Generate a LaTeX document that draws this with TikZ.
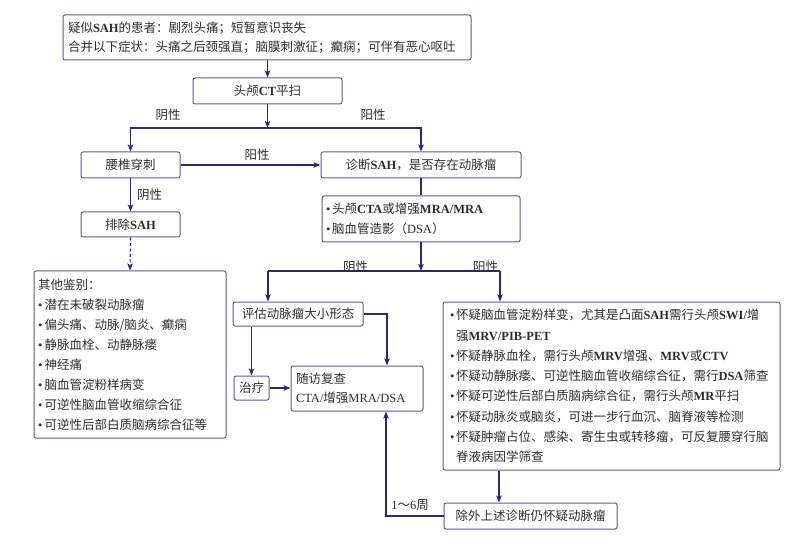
\documentclass[tikz,border=0pt]{standalone}
\usepackage{fontspec}
\setmainfont{Noto Sans CJK SC}
\newfontfamily\latf{Liberation Serif}
\usetikzlibrary{arrows.meta}
\definecolor{boxc}{RGB}{95,88,150}
\definecolor{linec}{RGB}{45,40,115}
\definecolor{txt}{RGB}{45,45,45}
\newcommand\ltb[1]{{\latf\bfseries #1}}
\newcommand\ltr[1]{{\latf #1}}
\newcommand\mybul[1]{\makebox[#1][l]{\latf •}}
\begin{document}
\begin{tikzpicture}[x=1pt,y=-1pt,
  box/.style={draw=boxc, line width=1pt, rounded corners=2pt, inner sep=0pt, text=txt,
    font=\fontsize{12.5}{19}\selectfont},
  lab/.style={text=txt, inner sep=0pt, font=\fontsize{12.5}{15}\selectfont},
  conn/.style={draw=linec, line width=1.1pt},
  arr/.style={conn, -{Stealth[length=7pt,width=5.5pt,inset=1.5pt]}}]
\useasboundingbox (0,0) rectangle (800,545);

% boxes
\node[box, minimum width=408, minimum height=45, inner xsep=5pt, text width=398pt, align=left]
  (top) at (267,37.5) {疑似\ltb{SAH}的患者：剧烈头痛；短暂意识丧失\\
  合并以下症状：头痛之后颈强直；脑膜刺激征；癫痫；可伴有恶心呕吐};
\node[box, minimum width=149, minimum height=26] (ct) at (267.5,91) {头颅\ltb{CT}平扫};
\node[box, minimum width=99, minimum height=26] (lp) at (130.5,165) {腰椎穿刺};
\node[box, minimum width=200, minimum height=26] (dx) at (421,165) {诊断\ltb{SAH}，是否存在动脉瘤};
\node[box, minimum width=99, minimum height=25] (ex) at (130.5,224.5) {排除\ltb{SAH}};
\node[box, minimum width=192, minimum height=167, inner xsep=4pt, text width=184pt, align=left,
  font=\fontsize{12.5}{20}\selectfont] (ot) at (130,354.5) {其他鉴别：\\
  \mybul{6.5pt}潜在未破裂动脉瘤\\
  \mybul{6.5pt}偏头痛、动脉/脑炎、癫痫\\
  \mybul{6.5pt}静脉血栓、动静脉瘘\\
  \mybul{6.5pt}神经痛\\
  \mybul{6.5pt}脑血管淀粉样病变\\
  \mybul{6.5pt}可逆性脑血管收缩综合征\\
  \mybul{6.5pt}可逆性后部白质脑病综合征等};
\node[box, minimum width=198, minimum height=46, inner xsep=4pt, text width=190pt, align=left,
  font=\fontsize{12.5}{20}\selectfont] (cta) at (421,219) {\mybul{6pt}头颅\ltb{CTA}或增强\ltb{MRA/MRA}\\
  \mybul{6pt}脑血管造影（\ltr{DSA}）};
\node[box, minimum width=130, minimum height=24] (pg) at (298,314) {评估动脉瘤大小形态};
\node[box, minimum width=35, minimum height=24] (zl) at (251.5,388) {治疗};
\node[box, minimum width=132, minimum height=45, inner xsep=5pt, text width=122pt, align=left]
  (sf) at (357,388.5) {随访复查\\ \ltr{CTA/}增强\ltr{MRA/DSA}};
\node[box, minimum width=337, minimum height=168, inner xsep=7pt, text width=323pt, align=left,
  font=\fontsize{12.5}{20.3}\selectfont] (hy) at (611.5,386) {%
  \mybul{6pt}怀疑脑血管淀粉样变，尤其是凸面\ltb{SAH}需行头颅\ltb{SWI/}增\\
  \hspace*{6pt}强\ltb{MRV/PIB-PET}\\
  \mybul{6pt}怀疑静脉血栓，需行头颅\ltb{MRV}增强、\ltb{MRV}或\ltb{CTV}\\
  \mybul{6pt}怀疑动静脉瘘、可逆性脑血管收缩综合征，需行\ltb{DSA}筛查\\
  \mybul{6pt}怀疑可逆性后部白质脑病综合征，需行头颅\ltb{MR}平扫\\
  \mybul{6pt}怀疑动脉炎或脑炎，可进一步行血沉、脑脊液等检测\\
  \mybul{6pt}怀疑肿瘤占位、感染、寄生虫或转移瘤，可反复腰穿行脑\\
  \hspace*{6pt}脊液病因学筛查};
\node[box, minimum width=173, minimum height=26] (cw) at (530.5,516) {除外上述诊断仍怀疑动脉瘤};

% junction coordinates
\coordinate (j1) at (267.5,128);
\coordinate (j2) at (421,271);
\coordinate (j2L) at (268,271);
\coordinate (j2R) at (500,271);
\coordinate (vx) at (499,0);

% connectors
\draw[arr] (top.south -| ct.north) -- (ct.north);
\draw[arr] (ct.south) -- (j1);
\draw[arr] (j1) -| (lp.north);
\draw[arr] (j1) -| (dx.north);
\draw[arr] (lp.east) -- (dx.west);
\draw[arr] (lp.south) -- (ex.north);
\draw[arr, dashed, dash pattern=on 3pt off 2.5pt] (ex.south) -- (ot.north);
\draw[conn] (dx.south) -- (cta.north);
\draw[arr] (cta.south) -- (j2);
\draw[conn] (j2L) -- (j2R);
\draw[arr] (j2L) -- (j2L |- pg.north);
\draw[arr] (j2R) -- (j2R |- hy.north);
\draw[arr] (zl.north |- pg.south) -- (zl.north);
\draw[arr] (pg.east) -| ([xshift=30pt]sf.north);
\draw[arr] (zl.east) -- (zl.east -| sf.west);
\draw[arr] (vx |- hy.south) -- (vx |- cw.north);
\draw[arr] (cw.west) -| ([xshift=29pt]sf.south);

% labels
\node[lab] (l1) at (168,115) {阴性};
\node[lab] (l2) at (373,115) {阳性};
\node[lab] (l3) at (257,155) {阳性};
\node[lab, anchor=west] (l4) at (137,195) {阴性};
\node[lab] (l5) at (355.5,267) {阴性};
\node[lab] (l6) at (485.5,267) {阳性};
\node[lab] (l7) at (410,505) {\ltr{1}～\ltr{6}周};
\end{tikzpicture}
\end{document}
